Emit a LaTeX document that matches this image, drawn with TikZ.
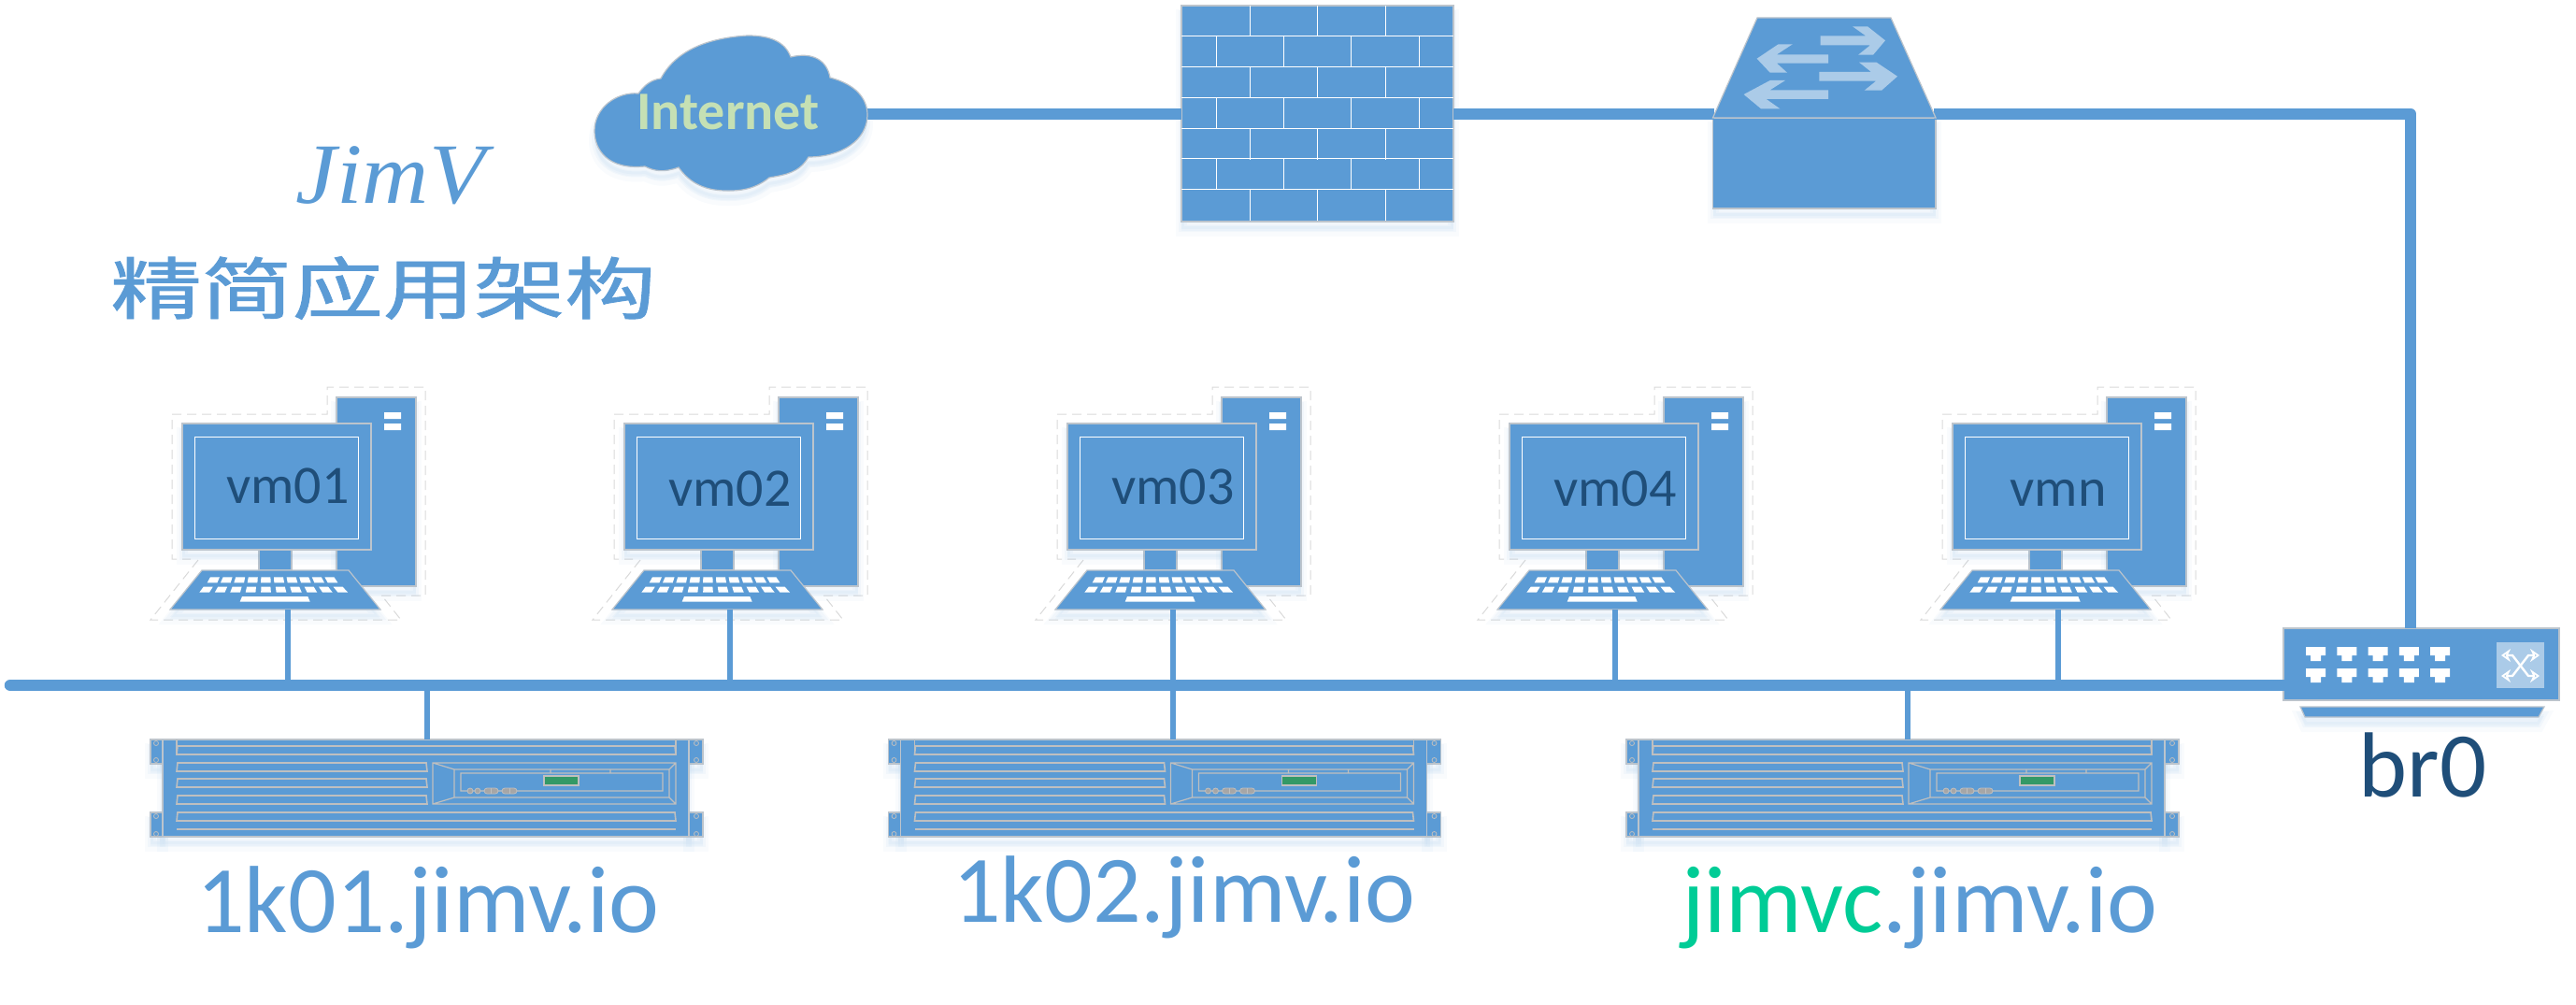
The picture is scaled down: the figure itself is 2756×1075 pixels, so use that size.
\documentclass[tikz,border=0pt]{standalone}
\usepackage{fontspec}
\usepackage{tikz}
\usetikzlibrary{arrows.meta}
\setmainfont{Carlito}
\newfontfamily\cjkfont[FakeBold=1.2]{Noto Sans CJK SC}
\newfontfamily\jimvfont{Liberation Serif}
\definecolor{netblue}{HTML}{5B9BD5}
\definecolor{vmblue}{HTML}{1F4E79}
\definecolor{paleblue}{HTML}{ABCBE8}
\definecolor{edgegray}{HTML}{BCC4CC}
\definecolor{panelgray}{HTML}{BFBFBF}
\definecolor{dashgray}{HTML}{D9D9D9}
\definecolor{webgreen}{HTML}{00CC96}
\definecolor{ledgreen}{HTML}{339966}
\definecolor{netgreen}{HTML}{C5E0B4}
\tikzset{
	softshadow/.style={
		preaction={draw=netblue,fill=netblue,opacity=.04,line width=6pt,transform canvas={yshift=-5pt}},
		preaction={draw=netblue,fill=netblue,opacity=.05,line width=3pt,transform canvas={yshift=-4pt}}},
	device/.style={fill=netblue,draw=edgegray,line width=.6pt,inner sep=0pt,outer sep=0pt},
	trunk/.style={draw=netblue,line width=6.25pt,line join=round},
	stub/.style={draw=netblue,line width=3.25pt},
	slot/.style={draw=panelgray,line width=.8pt},
	vmtext/.style={anchor=base,inner sep=0pt,text=vmblue,font=\fontsize{29}{29}\selectfont},
	hosttext/.style={anchor=base,inner sep=0pt,text=netblue,font=\fontsize{51}{51}\selectfont},
	computer/.pic={
		% dashed outline round the whole set
		\draw[dashgray,line width=.5pt,dash pattern=on 5pt off 3pt]
			(100,637) -- (147,637) -- (147,414) -- (42,414) -- (42,443) -- (-124,443) -- (-124,598) -- (-104,598)
			(-96,599) -- (-147,663) -- (121,663) -- (102,639);
		\path[device,softshadow] (52,425) rectangle (137,627);
		\fill[white] (103,441) rectangle (121,448) (103,453) rectangle (121,460);
		\path[device] (-31,588) rectangle (4,610);
		\path[device,softshadow] (-113,453) rectangle (89,588);
		\draw[white,line width=.5pt] (-100,467) rectangle (75,576);
		\path[device,softshadow] (-92,610) -- (65,610) -- (99,652) -- (-126,652) -- cycle;
		\foreach \i in {0,...,9}{
			\fill[white] ({-83+13.6*\i},617.3) -- ++(10,0) -- ({-75.6+14.33*\i},623.3) -- ++(-10.7,0) -- cycle;
			\fill[white] ({-90.3+15.43*\i},627.7) -- ++(10,0) -- ({-84+16.47*\i},633.7) -- ++(-10.7,0) -- cycle;
		}
		\fill[white] (-49,638) -- (21.3,638) -- (23.7,643.7) -- (-51.3,643.7) -- cycle;
		\coordinate (-foot) at (0,652);
	},
	server/.pic={
		\path[device,softshadow] (-13,791) rectangle (0,817) (-13,869) rectangle (0,895)
			(563,791) rectangle (578,817) (563,869) rectangle (578,895);
		\path[device,softshadow] (0,791) rectangle (563,895);
		\foreach \hy in {795,813,873,892}{
			\draw[panelgray,line width=.4pt] (-7,\hy) circle (2.5) (571,\hy) circle (2.5);
		}
		\draw[slot] (15,791) -- (15,807) (549,791) -- (549,807) (15,887) -- (549,887);
		\foreach \by in {798,869}{
			\draw[slot] (16,\by) -- (548,\by) -- (549,\by+9) -- (15,\by+9) -- cycle;
		}
		\foreach \by in {816,833,851}{
			\draw[slot] (16,\by) -- (282,\by) -- (283,\by+9) -- (15,\by+9) -- cycle;
		}
		\draw[slot,line width=.6pt] (289,816) rectangle (549,860) (312,823) rectangle (542,853)
			(319,827) rectangle (535,846)
			(289,816) -- (312,823) (289,860) -- (312,853) (549,816) -- (542,823) (549,860) -- (542,853)
			(415,823) -- (415,827) (479,823) -- (479,827);
		\filldraw[fill=ledgreen,draw=panelgray,line width=.6pt] (408,830) rectangle (445,840);
		\filldraw[fill=gray!70,draw=panelgray,line width=.4pt] (329,846) circle (3) (337,846) circle (3);
		\filldraw[fill=gray!70,draw=panelgray,line width=.4pt,rounded corners=1.5pt] (344,843) rectangle (359,849) (363,843) rectangle (379,849);
		\draw[panelgray,line width=.4pt] (351.5,843) -- (351.5,849) (371,843) -- (371,849);
	},
	port/.pic={
		\fill[white] (0,0) -- (21,0) -- (21,9) -- (16,9) -- (16,15) -- (5,15) -- (5,9) -- (0,9) -- cycle;
	},
}
\begin{document}
\begin{tikzpicture}[x=.5pt,y=-.5pt]
	\useasboundingbox (0,0) rectangle (2756,1075);

	% named points of the connectors
	\coordinate (buswest) at (11,733);
	\coordinate (cloudeast) at (928,122);
	\coordinate (corewest) at (1834,122);
	\coordinate (coreeast) at (2069,122);
	\coordinate (uplink) at (2579,672);

	% title
	\node[anchor=base,inner sep=0pt,text=netblue,xscale=1.07,transform shape,font=\jimvfont\itshape\fontsize{46}{46}\selectfont] (jimv) at (418,218) {JimV};
	\node[inner sep=0pt,text=netblue,xscale=1.35,transform shape,font=\cjkfont\fontsize{36}{36}\selectfont] (title) at (410,308) {精简应用架构};

	% uplink
	\node[device,softshadow,minimum width=145.5pt,minimum height=115.5pt] (wall) at (1409.5,121.5) {};
	\node[device,softshadow,minimum width=119.25pt,minimum height=48.5pt] (core) at (1951.75,174.5) {};
	\node[device,minimum width=147.5pt,minimum height=38.5pt] (br0) at (2590.5,710.5) {};
	\draw[trunk] (cloudeast) -- (wall.west |- cloudeast);
	\draw[trunk] (wall.east |- corewest) -- (corewest);
	\draw[trunk] (coreeast) -| (uplink);
	\draw[trunk,line cap=round] (buswest) -- (buswest -| br0.west);

	% internet cloud
	\path[device,softshadow] (707,84) .. controls (725,50) and (765,40) .. (800,38) .. controls (825,38) and (840,45) .. (846,61)
		.. controls (870,55) and (885,65) .. (888,83) .. controls (915,90) and (928,105) .. (928,123)
		.. controls (928,150) and (900,168) .. (865,168) .. controls (855,185) and (840,187) .. (823,190)
		.. controls (805,205) and (785,204) .. (777,204) .. controls (750,204) and (735,192) .. (726,179)
		.. controls (710,185) and (700,183) .. (690,178) .. controls (650,182) and (636,160) .. (636,140)
		.. controls (636,115) and (660,98) .. (683,100) .. controls (690,90) and (698,85) .. (707,84) -- cycle;
	\node[anchor=base,inner sep=0pt,text=netgreen,font=\bfseries\fontsize{29}{29}\selectfont] (internet) at (779,139) {Internet};

	% firewall bricks
	\foreach \ky in {39,72,105,138,170,203}{
		\draw[white,line width=.5pt] (wall.west |- 0,\ky) -- (wall.east |- 0,\ky);
	}
	\foreach \ky in {6,72,138,203}{
		\foreach \kx in {1337,1409,1482}{
			\draw[white,line width=.5pt] (\kx,\ky) -- (\kx,\ky+33);
		}
	}
	\foreach \ky in {39,105,170}{
		\foreach \kx in {1301,1373.5,1445,1518}{
			\draw[white,line width=.5pt] (\kx,\ky) -- (\kx,\ky+33);
		}
	}

	% core switch top
	\path[device] (1880,19) -- (2023,19) -- (2071,126) -- (1832.5,126) -- cycle;
	\fill[paleblue] (1947.5,38.3) -- (1996,38.3) -- (1982,28.3) -- (1998,28.3) -- (2017,43.3) -- (2004,58.7) -- (1988,58.7) -- (2001,48.3) -- (1947.5,48.3) -- cycle;
	\fill[paleblue] (1879.6,62.7) -- (1902.6,47.3) -- (1917.8,47.3) -- (1901,58.3) -- (1956,58.3) -- (1956,67.7) -- (1901,67.7) -- (1912,77.7) -- (1893.7,77.7) -- cycle;
	\fill[paleblue] (1946.4,77) -- (2002,77) -- (1989,66.7) -- (2007.6,66.7) -- (2030,81.7) -- (2013,96.7) -- (1994.7,96.7) -- (2007,86.7) -- (1946.4,86.7) -- cycle;
	\fill[paleblue] (1865.6,101) -- (1893.7,86) -- (1910,86) -- (1893.7,96.3) -- (1956,96.3) -- (1956,106) -- (1889.7,106) -- (1904.3,116.3) -- (1884,116.3) -- cycle;

	% vms
	\foreach \vmname/\vmx/\vmbase in {vm01/308/538,vm02/781/541,vm03/1255/539,vm04/1728/541,vmn/2202/541}{
		\pic (\vmname) at (\vmx,0) {computer};
		\node[vmtext] (\vmname text) at (\vmx,\vmbase) {\vmname};
		\draw[stub] (\vmname-foot) -- (\vmname-foot |- buswest);
	}

	% servers
	\foreach \srv/\srvx/\srvstem in {srv1/174/457,srv2/963.5/1255,srv3/1753/2041}{
		\pic (\srv) at (\srvx,0) {server};
		\coordinate (\srv top) at (\srvstem,791);
		\draw[stub] (\srv top) -- (\srv top |- buswest);
	}
	\node[hosttext] (host1) at (458,997) {1k01.jimv.io};
	\node[hosttext] (host2) at (1267,986) {1k02.jimv.io};
	\node[hosttext] (host3) at (2054,997) {{\color{webgreen}jimvc}.jimv.io};

	% br0
	\path[device,softshadow] (2461,756) -- (2722,756) -- (2716,767) -- (2466,767) -- cycle;
	\foreach \px in {0,...,4}{
		\pic at ({2467+33.3*\px},692) {port};
		\pic at ({2467+33.3*\px},715) {port};
	}
	\fill[paleblue] (2671,687) rectangle (2722,736);
	\draw[white,line width=1.2pt,{Stealth[open,length=5pt,width=7pt,fill=none]}-{Stealth[open,length=5pt,width=7pt,fill=none]}] (2676,701) -- (2688,701) -- (2705,723) -- (2717,723);
	\draw[white,line width=1.2pt,{Stealth[open,length=5pt,width=7pt,fill=none]}-{Stealth[open,length=5pt,width=7pt,fill=none]}] (2676,723) -- (2688,723) -- (2705,701) -- (2717,701);
	\node[anchor=base,inner sep=0pt,text=vmblue,font=\fontsize{49.5}{49.5}\selectfont] (br0text) at (2592,852) {br0};
\end{tikzpicture}
\end{document}
